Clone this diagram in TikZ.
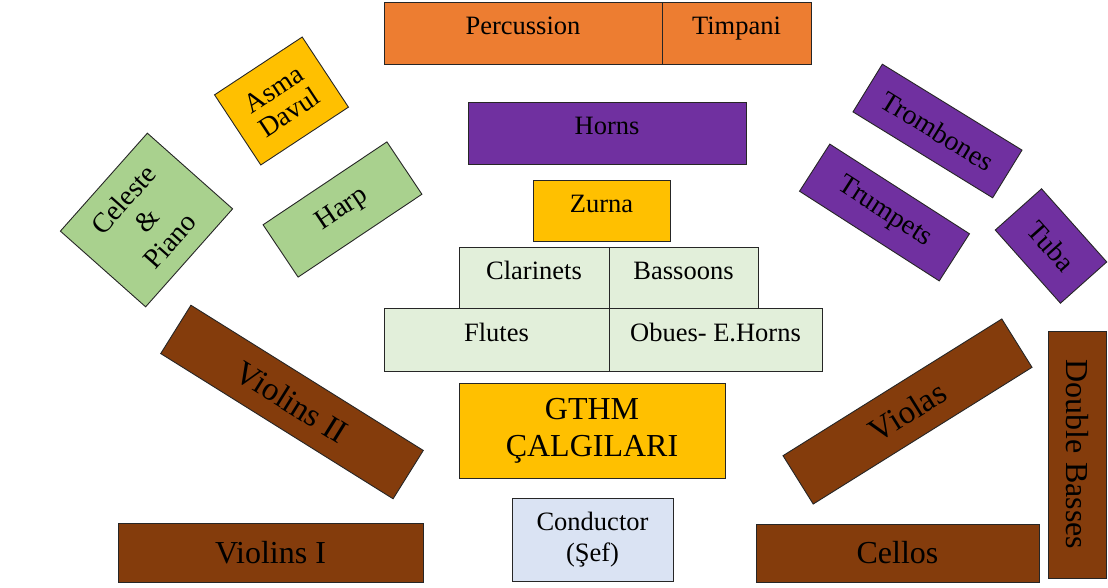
\documentclass[tikz,border=0pt]{standalone}
\usepackage{fontspec}
\setmainfont{Liberation Serif}

\definecolor{percorange}{HTML}{ED7D31}
\definecolor{brasspurple}{HTML}{7030A0}
\definecolor{gold}{HTML}{FFC000}
\definecolor{harpgreen}{HTML}{A9D18E}
\definecolor{windgreen}{HTML}{E2EFDA}
\definecolor{stringbrown}{HTML}{843C0C}
\definecolor{condblue}{HTML}{DAE3F3}

\tikzset{
  section/.style={draw=black!85, line width=0.9pt, inner sep=0pt, outer sep=0pt,
    rectangle, align=center, text=black},
  wind/.style={section, font=\fontsize{26.5}{31}\selectfont},
  oneline/.style={text height=16pt, text depth=12pt},
  string/.style={section, fill=stringbrown, font=\fontsize{32}{37}\selectfont},
  side/.style={section, font=\fontsize{28}{31}\selectfont},
}

\begin{document}
\begin{tikzpicture}[x=1pt, y=-1pt]
\useasboundingbox (0,0) rectangle (1108,588);

% percussion row at the back
\node[wind, oneline, fill=percorange, minimum width=278pt, minimum height=62pt] (perc) at (523,33) {Percussion};
\node[wind, oneline, fill=percorange, minimum width=149pt, minimum height=62pt] (timp) at (736.5,33) {Timpani};

% centre: horns, zurna and woodwinds
\node[wind, oneline, fill=brasspurple, minimum width=278pt, minimum height=62pt] (horns) at (607,133) {Horns};
\node[wind, oneline, fill=gold, minimum width=137pt, minimum height=61pt] (zurna) at (601.5,210.5) {Zurna};
\node[wind, oneline, fill=windgreen, minimum width=150pt, minimum height=61pt] (clar) at (534,277.5) {Clarinets};
\node[wind, oneline, fill=windgreen, minimum width=149pt, minimum height=61pt] (bass) at (683.5,277.5) {Bassoons};
\node[wind, oneline, fill=windgreen, minimum width=225pt, minimum height=63pt] (flutes) at (496.5,339.5) {Flutes};
\node[wind, oneline, fill=windgreen, minimum width=213pt, minimum height=63pt] (oboes) at (715.5,339.5) {Obues- E.Horns};

% traditional instruments and conductor
\node[section, fill=gold, font=\fontsize{32}{37}\selectfont, minimum width=266pt, minimum height=95pt] (gthm) at (592,430.5) {GTHM\\ÇALGILARI};
\node[wind, fill=condblue, minimum width=161pt, minimum height=83pt] (cond) at (592.5,539.5) {Conductor\\(Şef)};

% strings
\node[string, minimum width=305pt, minimum height=59pt] (vi1) at (270.5,552.5) {Violins I};
\node[string, minimum width=283pt, minimum height=58pt] (cellos) at (897.5,553) {Cellos};
\node[string, rotate=-90, minimum width=247pt, minimum height=58pt] (dbass) at (1077,454.5) {Double Basses};
\node[string, rotate=-32, minimum width=274pt, minimum height=57pt, font=\fontsize{33}{37}\selectfont] (vi2) at (292,402) {Violins II};
\node[string, rotate=32, minimum width=258pt, minimum height=57pt, font=\fontsize{33}{37}\selectfont] (violas) at (907.5,411.5) {Violas};

% left side
\node[side, fill=harpgreen, rotate=48.4, minimum width=131pt, minimum height=114pt] (celeste) at (146.5,220) {Celeste\\\&\\Piano};
\node[side, fill=gold, rotate=33.4, minimum width=105pt, minimum height=84pt, font=\fontsize{27.5}{28}\selectfont] (asma) at (281.5,101) {Asma\\Davul};
\node[side, fill=harpgreen, rotate=33.8, minimum width=149pt, minimum height=63pt] (harp) at (342.5,209.5) {Harp};

% right side brass
\node[side, fill=brasspurple, rotate=-31.6, minimum width=164pt, minimum height=56pt] (tromb) at (937.5,131) {Trombones};
\node[side, fill=brasspurple, rotate=-32.7, minimum width=166pt, minimum height=56pt] (trump) at (884.5,212.5) {Trumpets};
\node[side, fill=brasspurple, rotate=-48.3, minimum width=98pt, minimum height=62pt] (tuba) at (1051,246) {Tuba};
\end{tikzpicture}
\end{document}
